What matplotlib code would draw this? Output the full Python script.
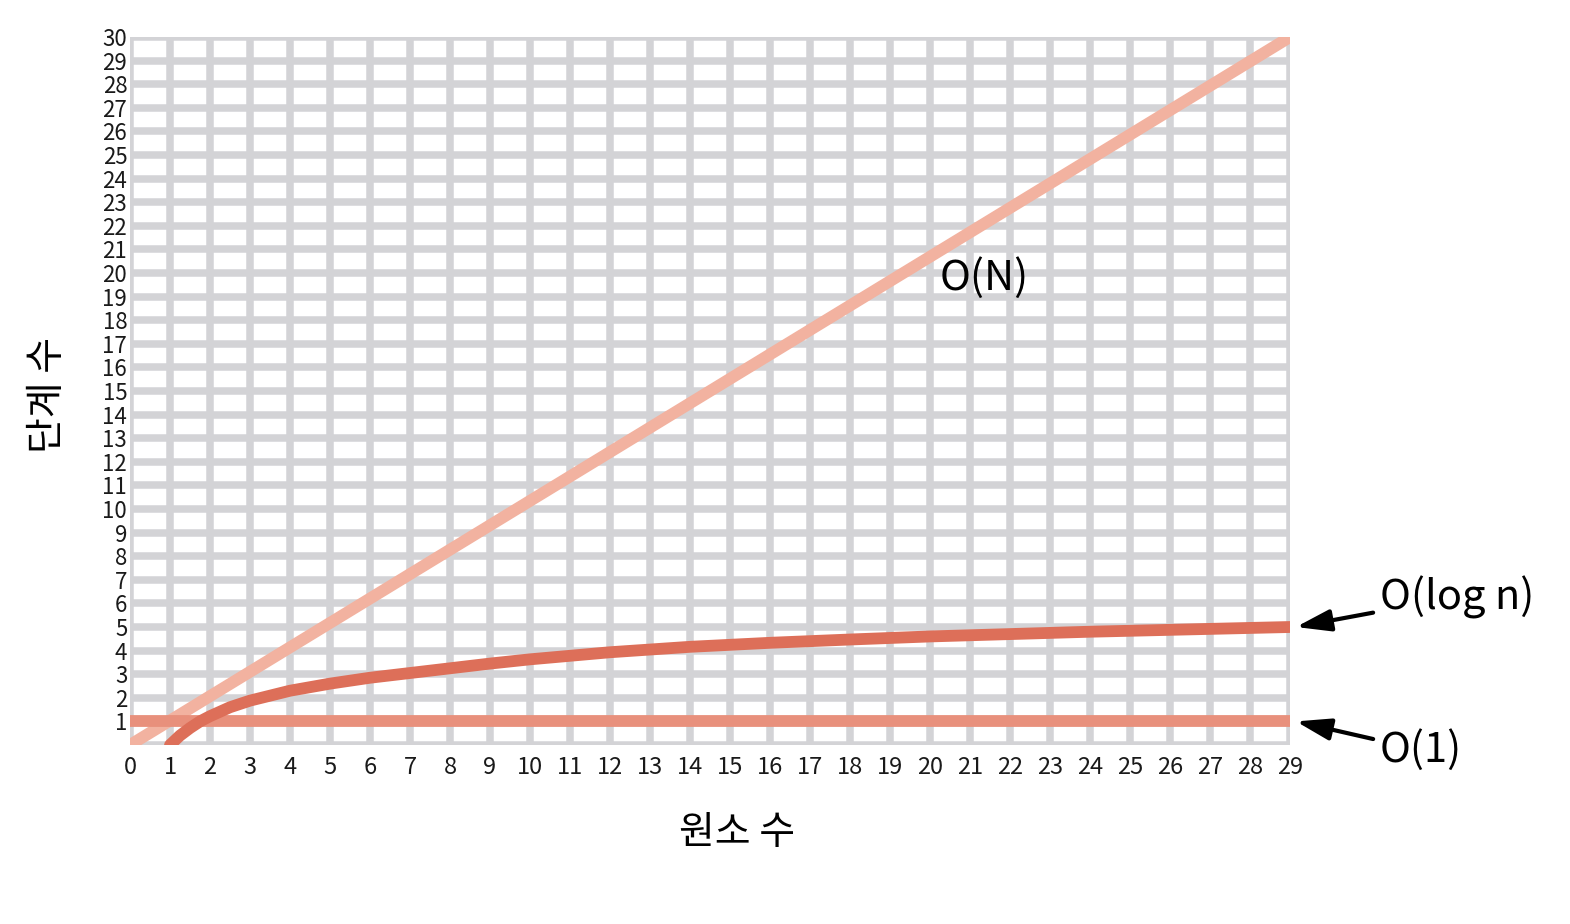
import matplotlib.pyplot as plt

plt.rcParams["font.family"] = ["Noto Sans CJK KR", "DejaVu Sans"]

# data
on_x = [0, 29]
on_y = [0, 30]
log_x = [1, 1.25, 1.5, 1.75, 2, 2.5, 3, 4, 5, 6, 7, 8, 9, 10, 12, 14, 16, 18,
         20, 24, 29]
log_y = [0, 0.4, 0.72, 1.0, 1.22, 1.6, 1.88, 2.3, 2.6, 2.85, 3.05, 3.25, 3.45,
         3.63, 3.93, 4.16, 4.33, 4.47, 4.6, 4.8, 5.0]
o1_x = [0, 29]
o1_y = [1, 1]
x_ticks = list(range(0, 30))
y_ticks = list(range(1, 31))

fig = plt.figure(figsize=(15.7, 9.24), dpi=100)
ax = fig.add_axes([130 / 1570, 1 - 745 / 924, 1160 / 1570, 708 / 924])

# thick grey grid, drawn as lines so the border matches
for x in range(0, 30):
    ax.axvline(x, color="#d3d3d6", lw=5.4, zorder=1, solid_capstyle="projecting")
for y in range(0, 31):
    ax.axhline(y, color="#d3d3d6", lw=5.4, zorder=1, solid_capstyle="projecting")

ax.plot(on_x, on_y, color="#f2b2a0", lw=8.5, zorder=3, solid_capstyle="butt")
ax.plot(o1_x, o1_y, color="#e8907c", lw=8.5, zorder=3, solid_capstyle="butt")
ax.plot(log_x, log_y, color="#dd6f59", lw=8.5, zorder=4, solid_capstyle="round",
        solid_joinstyle="round")

ax.set_xlim(0, 29)
ax.set_ylim(0, 30)
ax.set_xticks(x_ticks)
ax.set_yticks(y_ticks)
ax.tick_params(length=0, colors="#1a1a1a")
ax.tick_params(axis="x", pad=8, labelsize=17)
ax.tick_params(axis="y", pad=2, labelsize=16)
for s in ax.spines.values():
    s.set_visible(False)

ax.text(21.35, 19.8, "O(N)", fontsize=30, ha="center", va="center", zorder=5)

arrow = dict(arrowstyle="-|>,head_length=0.7,head_width=0.22",
             color="black", lw=3, shrinkA=3, shrinkB=0)
ax.annotate("O(log n)", xy=(29.15, 5.0), xytext=(1380 / 1570, 1 - 597 / 924),
            textcoords="figure fraction", fontsize=30, ha="left", va="center",
            annotation_clip=False, arrowprops=arrow)
ax.annotate("O(1)", xy=(29.15, 1.0), xytext=(1380 / 1570, 1 - 750 / 924),
            textcoords="figure fraction", fontsize=30, ha="left", va="center",
            annotation_clip=False, arrowprops=arrow)

fig.text(737 / 1570, 1 - 833 / 924, "원소 수", fontsize=28, ha="center", va="center")
fig.text(48 / 1570, 1 - 395 / 924, "단계 수", fontsize=28, ha="center", va="center",
         rotation=90)

fig.savefig("out.png", dpi=100, facecolor="white")
